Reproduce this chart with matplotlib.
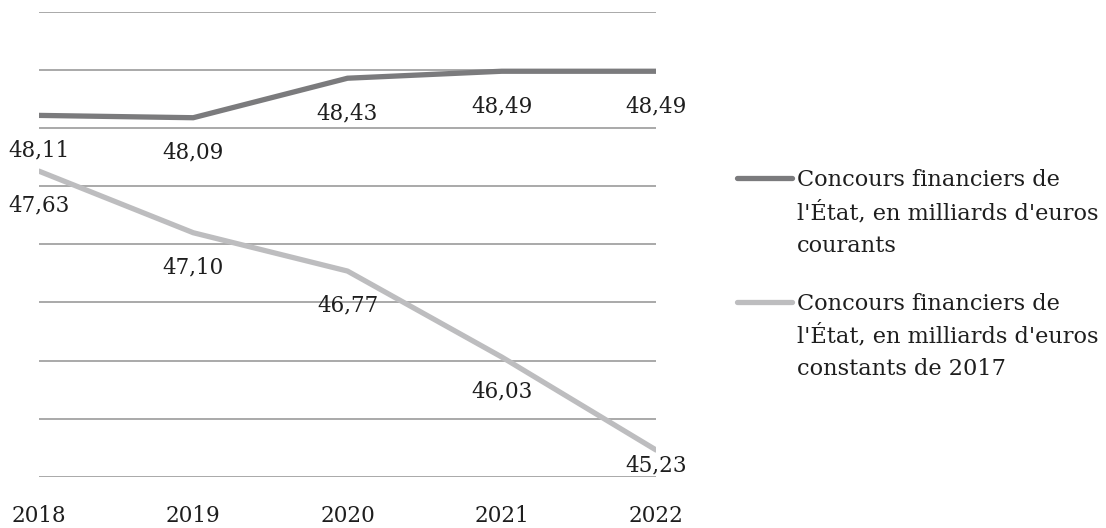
import numpy as np
import matplotlib.pyplot as plt
from matplotlib.lines import Line2D

# ---------------* data *----------------------
years = ["2018", "2019", "2020", "2021", "2022"]
courants = [48.11, 48.09, 48.43, 48.49, 48.49]
constants_2017 = [47.63, 47.10, 46.77, 46.03, 45.23]
label_courants = ["Concours financiers de", "l'État, en milliards d'euros", "courants"]
label_constants = ["Concours financiers de", "l'État, en milliards d'euros", "constants de 2017"]

dark = "#7b7b7d"
light = "#bdbdbf"
grid = "#a3a3a3"
txtcol = "#1e1e1e"

plt.rcParams["font.family"] = ["DejaVu Serif"]

W, H = 1106, 528
fig = plt.figure(figsize=(W / 100, H / 100), dpi=100)
ax = fig.add_axes([39 / W, 1 - 476.7 / H, (656 - 39) / W, (476.7 - 12) / H])

x = np.arange(len(years))
ax.plot(x, courants, color=dark, lw=3.8, solid_capstyle="round", zorder=3)
ax.plot(x, constants_2017, color=light, lw=3.8, solid_capstyle="round", zorder=3)

ax.set_xlim(0, len(years) - 1)
ax.set_ylim(45, 49)
ax.set_yticks(np.arange(45, 49.01, 0.5))
ax.yaxis.grid(True, color=grid, lw=1.3)
ax.set_axisbelow(True)
for s in ax.spines.values():
    s.set_visible(False)
ax.tick_params(left=False, labelleft=False, bottom=False)
ax.set_xticks(x)
ax.set_xticklabels(years, fontsize=15.5, color=txtcol)
ax.tick_params(axis="x", pad=17)

# data labels, placed below each point
for i in range(len(years)):
    ax.annotate(f"{courants[i]:.2f}".replace(".", ","), (x[i], courants[i]),
                xytext=(0, -25), textcoords="offset points",
                ha="center", va="center", fontsize=15.5, color=txtcol,
                annotation_clip=False)
    off = -11 if i == len(years) - 1 else -25
    ax.annotate(f"{constants_2017[i]:.2f}".replace(".", ","), (x[i], constants_2017[i]),
                xytext=(0, off), textcoords="offset points",
                ha="center", va="center", fontsize=15.5, color=txtcol,
                annotation_clip=False)

# legend drawn by hand so the key sits on the first text line
for y0, col, lines in [(178, dark, label_courants), (301.5, light, label_constants)]:
    fy = 1 - y0 / H
    fig.add_artist(Line2D([737 / W, 792 / W], [fy, fy], color=col, lw=3.8,
                          solid_capstyle="round"))
    for k, ln in enumerate(lines):
        base = y0 + 8.5 + k * 32.5
        fig.text(797 / W, 1 - base / H, ln, ha="left", va="baseline",
                 fontsize=16.2, color=txtcol)

fig.savefig("out.png", dpi=100)
